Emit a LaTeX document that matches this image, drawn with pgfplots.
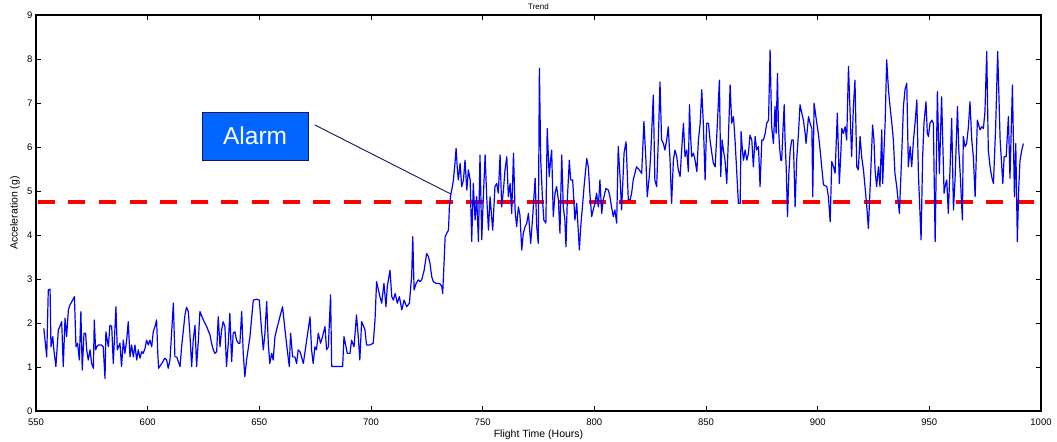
\documentclass[border=0pt]{standalone}
\usepackage{pgfplots}
\pgfplotsset{compat=1.18}
\usepackage{fontspec}
\setmainfont{Liberation Sans}
\usetikzlibrary{calc}
\definecolor{alarmblue}{RGB}{0,102,255}
\definecolor{navy}{RGB}{20,20,90}
\begin{document}
\begin{tikzpicture}
\begin{axis}[
  scale only axis, width=1005pt, height=396pt,
  xmin=550, xmax=1000, ymin=0, ymax=9,
  xtick={550,600,...,1000}, ytick={0,1,...,9},
  tick pos=both, tick align=inside, major tick length=5pt,
  axis line style={line width=1.1pt},
  every tick/.style={black, line width=0.8pt},
  /pgf/number format/assume math mode=true,
  /pgf/number format/1000 sep={},
  tick label style={font=\fontsize{9.5}{11}\selectfont},
  xticklabel style={anchor=center, yshift=-11pt},
  xlabel={Flight Time (Hours)}, ylabel={Acceleration (g)},
  xlabel style={font=\fontsize{10.5}{12}\selectfont, at={(axis description cs:0.5,0)}, anchor=center, yshift=-24pt},
  ylabel style={font=\fontsize{10.5}{12}\selectfont, at={(axis description cs:-0.0209,0.5)}, anchor=center},
  clip=true, clip mode=individual,
]
\addplot[red, line width=4pt, dash pattern=on 17pt off 13.6pt] coordinates {(550.8,4.75) (1000,4.75)};
\addplot[blue, line width=1.2pt, line join=round] coordinates {
(553.5,1.88) (554.8,1.23) (555.5,2.75) (556.3,2.77) (556.7,1.46) (557.5,1.69) (558.0,1.39) (558.9,1.01)
(560.0,1.84) (560.7,1.92) (561.5,2.03) (562.2,1.01) (563.0,2.11) (563.7,1.69) (564.5,2.30) (565.2,2.41)
(566.4,2.52) (567.2,2.60) (567.9,1.46) (568.6,1.54) (569.4,1.16) (570.1,2.26) (570.7,0.93) (571.5,1.77)
(572.2,1.77) (572.7,1.39) (573.4,1.16) (574.2,1.39) (574.9,1.08) (575.7,0.97) (576.1,2.07) (576.7,1.39)
(577.2,1.46) (577.9,1.50) (579.4,1.50) (580.1,1.46) (580.9,0.74) (581.3,1.80) (582.4,1.46) (583.1,1.95)
(583.9,1.92) (584.6,1.08) (585.8,2.37) (586.4,1.39) (587.6,1.54) (588.3,1.01) (589.1,1.61) (589.8,1.31)
(590.6,1.61) (591.3,2.03) (592.1,1.23) (592.8,1.50) (593.6,1.23) (594.3,1.50) (595.1,1.16) (595.8,1.39)
(596.6,1.20) (597.3,1.35) (598.0,1.31) (598.8,1.42) (599.5,1.61) (600.3,1.50) (601.0,1.61) (601.8,1.46)
(602.5,1.80) (603.3,1.92) (604.0,2.07) (604.5,1.35) (604.9,0.97) (606.3,1.08) (607.7,1.20) (608.5,1.16)
(609.2,0.97) (610.0,1.16) (611.5,2.45) (612.2,1.23) (613.0,1.23) (614.5,1.01) (615.2,1.46) (616.7,2.18)
(617.4,2.36) (618.2,2.26) (618.9,1.77) (619.7,1.01) (620.4,1.61) (621.2,1.95) (621.9,1.01) (622.7,1.61)
(623.4,2.26) (624.9,2.07) (626.4,1.92) (627.9,1.73)
(628.6,1.54) (629.4,1.39) (630.1,1.31) (630.9,1.35) (631.6,2.14) (632.4,1.46) (633.1,1.84) (633.8,2.03)
(634.6,1.92) (635.3,1.01) (636.1,1.54) (636.8,2.22) (637.6,1.12) (638.3,1.77) (639.1,1.80) (639.8,1.61)
(640.6,1.54) (641.3,1.54) (642.1,2.26) (642.8,1.31) (643.5,0.78) (644.3,1.16) (645.8,1.69) (647.3,2.52)
(648.8,2.54) (650.0,2.52) (651.0,1.84) (651.8,1.39) (652.5,1.77) (653.3,2.49) (654.0,1.54) (654.7,1.08)
(655.5,1.31) (656.2,1.16) (657.0,1.69) (657.7,1.84) (659.2,2.14) (660.4,2.37) (661.5,1.84) (662.5,1.39)
(663.4,1.01) (664.0,1.77) (664.9,1.23) (665.9,1.23) (666.7,1.08) (667.4,1.39) (668.2,1.35) (668.9,1.23)
(669.7,1.08) (671.2,1.61) (672.7,2.14) (673.4,1.39) (674.1,1.08) (674.9,1.46) (675.6,1.39) (676.4,1.77)
(677.4,1.54) (678.3,1.69) (679.4,1.92) (680.1,1.39) (680.9,1.46) (681.9,2.64) (682.4,1.01) (683.8,1.01)
(685.3,1.01) (687.3,1.01) (687.9,1.69) (688.8,1.46) (689.4,1.31) (690.6,1.31) (691.3,1.61) (692.4,1.46)
(693.5,2.18) (694.3,1.69) (695.0,1.16) (695.8,2.03) (696.5,1.95) (697.3,1.84) (698.0,1.50) (699.5,1.50)
(701.0,1.54) (701.8,2.07) (702.5,2.94) (704.0,2.60)
(704.8,2.45) (705.8,2.90) (706.7,2.37) (707.3,2.83) (708.5,3.20) (709.3,2.60) (710.0,2.52) (710.8,2.67)
(711.8,2.45) (712.7,2.60) (713.8,2.30) (714.8,2.52) (716.0,2.37) (717.2,2.45) (717.8,2.83) (718.2,3.05)
(718.7,3.96) (719.3,2.75) (720.2,2.90) (721.2,2.98) (722.0,2.94) (722.7,2.98) (723.8,3.20) (724.9,3.58)
(725.7,3.51) (726.4,3.36) (727.2,3.05) (727.9,2.94) (729.1,2.90) (730.2,2.90) (730.9,2.89) (731.7,2.83)
(732.1,2.67) (732.7,3.36) (733.2,3.96) (733.9,4.04) (734.7,4.11) (735.1,4.64) (735.7,4.91) (736.3,5.06)
(736.9,5.25) (737.6,5.63) (738.1,5.97) (738.7,5.48) (739.1,5.25) (739.9,5.63) (740.6,5.10) (741.4,5.25)
(742.1,5.70) (742.9,5.02) (743.6,5.48) (744.4,5.25) (745.1,3.85) (745.8,5.17) (746.6,4.34) (747.3,4.87)
(748.1,3.85) (748.8,5.82) (749.6,3.89) (750.3,4.87) (751.1,5.82) (751.8,4.87) (752.6,4.11) (753.3,4.87)
(754.5,4.11) (755.5,5.10) (756.3,5.17) (757.0,4.95) (757.8,5.82) (758.5,4.64) (759.3,5.02) (760.0,5.48)
(760.8,5.78) (761.5,4.87) (762.3,5.17) (763.0,4.49) (763.8,5.86) (764.5,4.57) (765.2,4.19) (766.0,4.64)
(766.7,4.45) (767.5,3.66) (768.2,4.04) (769.0,4.19) (769.7,4.26) (770.5,4.49) (771.5,3.81) (772.4,4.42)
(773.5,5.29) (774.2,4.19) (774.9,3.81)
(775.4,7.79) (776.0,5.70) (776.8,4.80) (777.4,4.34) (778.3,4.27) (778.9,6.42) (779.8,5.33) (780.4,5.70)
(780.9,5.93) (781.6,4.42) (782.4,4.95) (783.1,5.10) (783.9,4.80) (784.6,4.04) (785.4,5.82) (786.1,4.64)
(786.8,4.34) (787.3,3.73) (787.9,4.80) (788.8,5.70) (789.4,5.25) (790.3,5.25) (791.3,4.34) (792.1,4.72)
(793.3,3.66) (793.9,4.19) (794.8,4.72) (795.4,5.10) (796.6,5.74) (797.3,5.55) (798.0,4.95) (798.8,4.42)
(799.5,4.57) (800.3,4.72) (801.0,4.95) (801.8,4.64) (802.5,5.25) (803.3,4.49) (804.0,4.80) (805.2,5.06)
(806.3,5.02) (807.0,4.87) (807.7,4.64) (808.5,4.42) (809.2,4.57) (810.0,4.27) (810.7,6.01) (811.5,5.33)
(812.2,4.57) (813.0,5.48) (813.3,5.86) (814.2,6.12) (814.8,5.33) (815.2,4.80) (816.0,4.80) (816.7,4.95)
(817.4,5.25) (818.9,5.55) (820.1,5.48) (821.2,5.40) (822.2,6.58) (823.1,5.70) (823.7,4.87) (824.6,5.33)
(825.2,5.78) (826.4,7.18) (827.1,5.25) (827.9,5.10) (828.6,6.08) (829.4,7.48) (830.1,6.16) (830.9,6.08)
(831.6,5.93) (832.4,6.16) (833.1,6.46) (833.9,5.70) (834.6,4.72) (835.4,5.70) (836.1,5.93) (836.9,5.78)
(837.6,5.48)
(838.4,5.33) (839.1,5.93) (839.9,6.54) (840.6,5.78) (841.4,5.93) (842.1,5.44) (842.6,6.96) (843.2,6.16)
(843.6,5.78) (844.4,5.86) (845.1,5.70) (845.9,5.44) (846.6,6.16) (847.4,6.54) (848.1,7.30) (848.8,6.54)
(849.6,5.25) (850.3,6.54) (851.1,6.54) (851.8,6.16) (852.6,5.86) (853.3,5.63) (854.1,5.55) (855.1,6.54)
(856.0,7.52) (856.6,5.33) (857.2,6.16) (857.8,5.93) (858.5,5.70) (859.3,5.17) (860.0,6.16) (860.8,7.41)
(861.5,6.54) (862.3,6.69) (863.0,6.16) (863.8,5.40) (864.5,4.72) (865.3,4.72) (865.7,6.35) (866.3,5.93)
(866.8,5.70) (867.5,5.93) (868.3,5.70) (869.0,5.86) (869.7,6.27) (870.5,6.16) (871.2,5.55) (872.0,6.24)
(872.7,5.93) (873.5,6.01) (874.2,5.10) (875.0,6.16) (875.7,6.16) (876.5,6.31) (877.2,6.54) (878.0,6.61)
(878.7,8.20) (879.4,6.46) (880.2,6.08) (880.9,6.92) (881.4,6.31) (882.0,7.67) (882.4,6.54) (882.9,6.01)
(883.5,5.70) (883.9,5.70) (884.4,6.31) (885.0,6.96) (885.4,6.16) (885.9,5.55) (886.5,4.42) (887.1,5.40)
(887.7,5.93) (888.4,6.16) (889.1,6.16) (889.9,4.64) (890.6,5.70) (891.4,6.31) (892.1,6.96) (892.9,6.77)
(893.6,6.61) (894.4,6.31) (894.8,6.08) (895.9,6.69) (896.6,6.54) (897.4,6.42) (897.8,4.87) (898.4,6.99)
(899.0,6.77) (899.6,6.54) (900.3,6.31) (901.1,5.93) (901.8,5.55) (902.6,5.14) (904.1,5.10) (904.8,4.87)
(905.6,4.30) (906.3,5.67) (907.1,5.55) (907.8,5.40) (908.8,6.77) (909.7,5.17) (910.3,5.78) (910.8,6.42)
(911.5,6.31) (912.3,6.46) (913.0,6.16) (913.8,7.83)
(915.2,5.78) (916.0,6.92) (916.7,7.52) (917.5,5.55) (918.2,5.48) (919.0,6.24) (919.7,5.78) (920.5,5.48)
(921.2,5.10) (922.0,4.64) (922.7,4.15) (923.5,5.10) (924.6,6.50) (925.2,6.16) (925.7,5.48) (926.4,5.10)
(927.2,5.55) (927.9,5.10) (928.7,6.39) (929.1,5.17) (930.2,6.54) (930.9,7.98) (931.7,7.30) (932.4,6.92)
(933.2,6.54) (933.9,6.16) (934.6,5.40) (935.4,5.10) (936.6,4.49) (937.6,5.78) (938.4,6.92) (939.1,7.30)
(939.9,7.45) (940.6,5.55) (941.4,6.01) (942.1,5.55) (942.9,6.16) (943.6,6.54) (944.4,7.07) (945.1,5.40)
(946.3,3.89) (947.0,5.78) (947.6,6.54) (948.5,7.03) (949.1,6.31) (949.6,6.24) (950.3,6.54) (951.1,6.61)
(951.8,6.54) (952.6,3.85) (953.6,7.26) (954.5,5.40) (955.5,7.14) (956.6,4.95) (957.3,5.17) (957.8,5.25)
(958.5,4.49) (959.3,5.55) (960.0,6.65) (960.8,4.57) (961.5,5.25) (962.6,6.92) (963.2,5.93) (963.8,5.40)
(964.8,4.34) (965.2,6.24) (966.0,6.01) (966.7,6.08) (967.5,6.46) (968.2,7.03) (969.0,6.16) (969.7,5.78)
(970.5,4.87) (971.5,6.61) (972.7,6.39) (973.5,6.46) (974.2,6.42) (974.9,6.80) (975.7,8.17) (976.4,5.93)
(977.2,5.55) (977.9,5.33) (978.7,5.17) (979.7,6.46) (980.6,8.17) (981.7,6.16) (982.9,5.17) (983.5,5.78)
(984.4,5.78) (985.4,6.69) (986.1,5.29) (987.2,7.41) (988.1,4.87) (988.7,6.08) (989.4,3.85) (990.0,5.02)
(990.6,5.70) (991.4,5.93) (992.1,6.08)
};
\draw[navy, line width=0.9pt] (axis cs:674.9,6.50) -- (axis cs:735.8,4.93);
\node[draw=navy, line width=0.8pt, fill=alarmblue, text=white, minimum width=106pt, minimum height=48pt, inner sep=0pt, font=\fontsize{24.5}{28}\selectfont] at (axis cs:648.1,6.25) {Alarm};
\node[font=\fontsize{8}{9}\selectfont, inner sep=0pt, anchor=center] at (axis description cs:0.5,1.022) {Trend};
\end{axis}
\pgfresetboundingbox
\path[use as bounding box] ($(current axis.south west)+(-36pt,-31pt)$) rectangle ($(current axis.north east)+(16pt,15pt)$);
\end{tikzpicture}
\end{document}
